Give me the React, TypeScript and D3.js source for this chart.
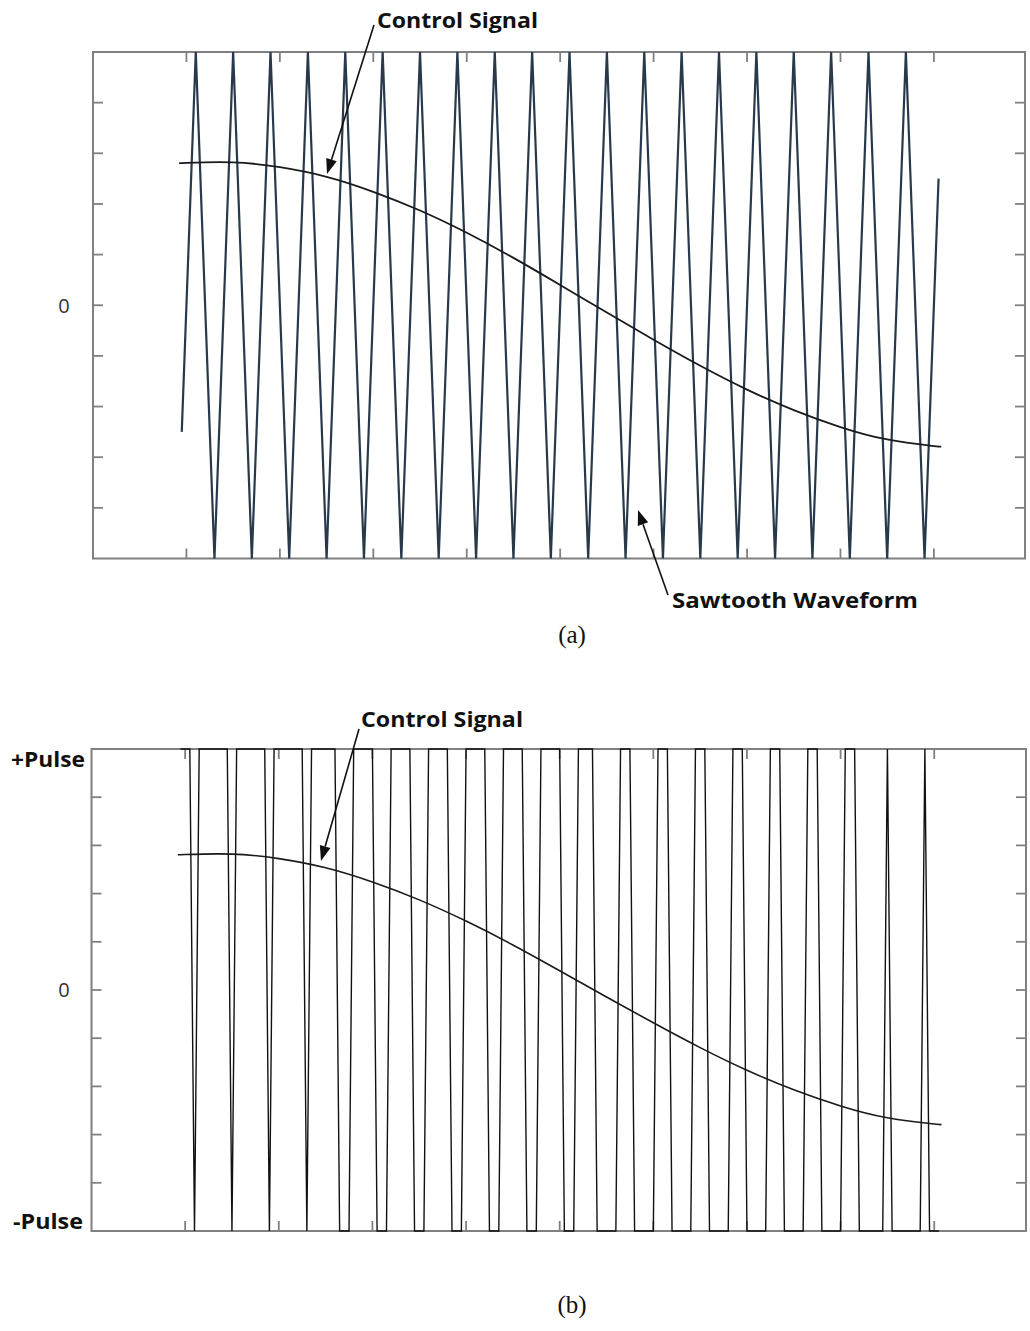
import React from "react";
import * as d3 from "d3";

// triangle carrier vertices (time, level)
const carrierT = [
  -0.05, 0.1, 0.3, 0.5, 0.7, 0.9, 1.1, 1.3, 1.5, 1.7, 1.9, 2.1, 2.3, 2.5, 2.7,
  2.9, 3.1, 3.3, 3.5, 3.7, 3.9, 4.1, 4.3, 4.5, 4.7, 4.9, 5.1, 5.3, 5.5, 5.7,
  5.9, 6.1, 6.3, 6.5, 6.7, 6.9, 7.1, 7.3, 7.5, 7.7, 7.9, 8.05,
];
const carrierV = [
  -0.5, 1, -1, 1, -1, 1, -1, 1, -1, 1, -1, 1, -1, 1, -1, 1, -1, 1, -1, 1, -1,
  1, -1, 1, -1, 1, -1, 1, -1, 1, -1, 1, -1, 1, -1, 1, -1, 1, -1, 1, -1, 0.5,
];

// control signal samples
const controlT = [-0.05, 0, 0.5, 1, 1.5, 2, 2.5, 3, 3.5, 4, 4.5, 5, 5.5, 6, 6.5, 7, 7.5, 8, 8.05];
const controlV = [
  0.561, 0.562, 0.564, 0.545, 0.507, 0.448, 0.374, 0.286, 0.187, 0.08, -0.029,
  -0.136, -0.239, -0.333, -0.414, -0.481, -0.53, -0.556, -0.557,
];

const timeTicks = [0, 1, 2, 3, 4, 5, 6, 7, 8];
const levelTicks = [-0.8, -0.6, -0.4, -0.2, 0, 0.2, 0.4, 0.6, 0.8];
const sampleStep = 0.05;

const W = 1030;
const H = 1331;
const frameColor = "#808080";
const labelFont = "'Open Sans', 'DejaVu Sans', sans-serif";

const Frame = ({ x, y }: { x: any; y: any }) => {
  const [x0, x1] = x.range();
  const [yb, yt] = y.range();
  return (
    <g stroke={frameColor} fill="none">
      <rect x={x0} y={yt} width={x1 - x0} height={yb - yt} strokeWidth={2} />
      {timeTicks.map((t) => (
        <g key={"t" + t} strokeWidth={1.8}>
          <line x1={x(t)} x2={x(t)} y1={yt} y2={yt + 10} />
          <line x1={x(t)} x2={x(t)} y1={yb} y2={yb - 10} />
        </g>
      ))}
      {levelTicks.map((v) => (
        <g key={"v" + v} strokeWidth={1.8}>
          <line x1={x0} x2={x0 + 10} y1={y(v)} y2={y(v)} />
          <line x1={x1} x2={x1 - 10} y1={y(v)} y2={y(v)} />
        </g>
      ))}
    </g>
  );
};

const Arrow = ({ from, to }: { from: [number, number]; to: [number, number] }) => {
  const ang = Math.atan2(to[1] - from[1], to[0] - from[0]);
  const len = 15;
  const half = 5.5;
  const bx = to[0] - len * Math.cos(ang);
  const by = to[1] - len * Math.sin(ang);
  const px = -Math.sin(ang) * half;
  const py = Math.cos(ang) * half;
  return (
    <g>
      <line x1={from[0]} y1={from[1]} x2={bx} y2={by} stroke="#111" strokeWidth={1.6} />
      <polygon
        points={`${to[0]},${to[1]} ${bx + px},${by + py} ${bx - px},${by - py}`}
        fill="#111"
      />
    </g>
  );
};

const BoldLabel = ({ x, y, w, text }: { x: number; y: number; w: number; text: string }) => (
  <text
    x={x}
    y={y}
    textLength={w}
    lengthAdjust="spacingAndGlyphs"
    fontFamily={labelFont}
    fontWeight="bold"
    fontSize={22}
    fill="#111"
  >
    {text}
  </text>
);

export default function App() {
  const carrier = d3.scaleLinear().domain(carrierT).range(carrierV);
  const control = d3.scaleLinear().domain(controlT).range(controlV);

  const t0 = carrierT[0];
  const t1 = carrierT[carrierT.length - 1];
  const n = Math.round((t1 - t0) / sampleStep);
  const samples = d3.range(n + 1).map((i) => t0 + i * sampleStep);
  const pulse: [number, number][] = samples.map((t) => [t, control(t) > carrier(t) ? 1 : -1]);

  // panel (a)
  const xA = d3.scaleLinear().domain([-1, 8.975]).range([93, 1025]);
  const yA = d3.scaleLinear().domain([-1, 1]).range([558.5, 52]);
  // panel (b)
  const xB = d3.scaleLinear().domain([-1, 8.98]).range([91.5, 1026]);
  const yB = d3.scaleLinear().domain([-1, 1]).range([1231, 749]);

  const lineA = d3.line<number>().x((_, i) => xA(carrierT[i])).y((d) => yA(d));
  const ctrlA = d3
    .line<number>()
    .x((_, i) => xA(controlT[i]))
    .y((d) => yA(d))
    .curve(d3.curveNatural);
  const ctrlB = d3
    .line<number>()
    .x((_, i) => xB(controlT[i]))
    .y((d) => yB(d))
    .curve(d3.curveNatural);
  const pulseB = d3
    .line<[number, number]>()
    .x((d) => xB(d[0]))
    .y((d) => yB(d[1]));

  return (
    <svg
      width={W}
      height={H}
      viewBox={`0 0 ${W} ${H}`}
      style={{ position: "absolute", left: 0, top: 0, background: "#fff" }}
    >
      <rect width={W} height={H} fill="#fff" />

      {/* (a) */}
      <Frame x={xA} y={yA} />
      <path d={lineA(carrierV) || ""} fill="none" stroke="#27394b" strokeWidth={2.2} strokeLinejoin="miter" />
      <path d={ctrlA(controlV) || ""} fill="none" stroke="#1a1a1a" strokeWidth={1.8} />
      <text x={64} y={313} textAnchor="middle" fontFamily={labelFont} fontSize={20} fill="#333">
        0
      </text>
      <Arrow from={[374, 25]} to={[327, 174]} />
      <BoldLabel x={377} y={28} w={161} text="Control Signal" />
      <Arrow from={[668, 595]} to={[638, 510]} />
      <BoldLabel x={672} y={608} w={246} text="Sawtooth Waveform" />
      <text x={572} y={643} textAnchor="middle" fontFamily="'Liberation Serif', serif" fontSize={25} fill="#111">
        (a)
      </text>

      {/* (b) */}
      <Frame x={xB} y={yB} />
      <path d={pulseB(pulse) || ""} fill="none" stroke="#111" strokeWidth={1.4} />
      <path d={ctrlB(controlV) || ""} fill="none" stroke="#1a1a1a" strokeWidth={1.6} />
      <text x={64} y={997} textAnchor="middle" fontFamily={labelFont} fontSize={20} fill="#333">
        0
      </text>
      <BoldLabel x={11} y={767} w={74} text="+Pulse" />
      <BoldLabel x={13} y={1229} w={70} text="-Pulse" />
      <Arrow from={[359, 729]} to={[321, 861]} />
      <BoldLabel x={361} y={727} w={162} text="Control Signal" />
      <text x={572} y={1313} textAnchor="middle" fontFamily="'Liberation Serif', serif" fontSize={25} fill="#111">
        (b)
      </text>
    </svg>
  );
}
